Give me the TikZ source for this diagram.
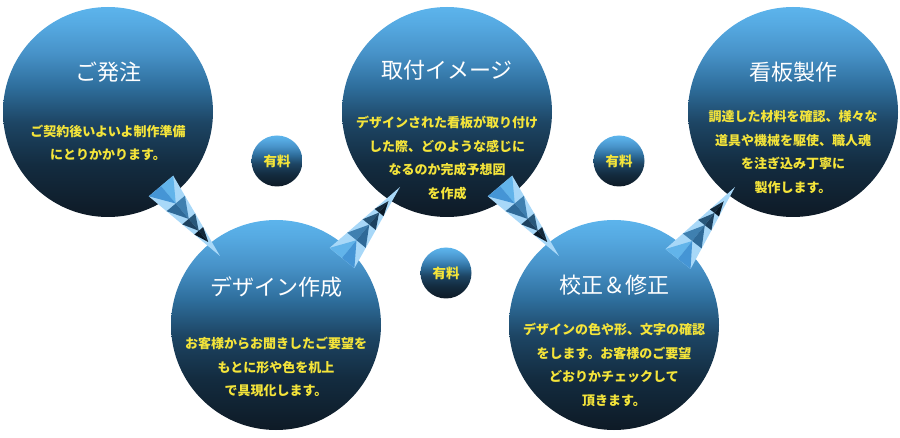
\documentclass[tikz,border=0pt]{standalone}
\usepackage{fontspec}
\newfontfamily\jpfont{Noto Sans CJK JP}
\usetikzlibrary{calc,positioning}

\definecolor{ballA}{HTML}{0E1A26}
\definecolor{ballB}{HTML}{132C40}
\definecolor{ballC}{HTML}{1D4564}
\definecolor{ballD}{HTML}{2E6E9C}
\definecolor{ballE}{HTML}{4792C8}
\definecolor{ballF}{HTML}{56AAE2}
\definecolor{ballG}{HTML}{5CB4EC}
\definecolor{noteyellow}{HTML}{F4E43A}
\definecolor{spikelight}{HTML}{A8D8F8}
\definecolor{pyrAl}{HTML}{62B4EA}
\definecolor{pyrAd}{HTML}{4595D5}
\definecolor{pyrBl}{HTML}{3F80B0}
\definecolor{pyrBd}{HTML}{2F6A98}
\definecolor{pyrCl}{HTML}{28577A}
\definecolor{pyrCd}{HTML}{1D4260}
\definecolor{pyrDl}{HTML}{13293B}
\definecolor{pyrDd}{HTML}{0A1A28}

\pgfdeclareverticalshading{ballshade}{100bp}{color(0bp)=(ballA); color(25bp)=(ballA);
  color(37.5bp)=(ballB); color(47.5bp)=(ballC); color(56bp)=(ballD);
  color(64bp)=(ballE); color(71bp)=(ballF); color(75bp)=(ballG); color(100bp)=(ballG)}

% spike from base centre #1 to tip #2
\newcommand{\spike}[2]{%
  \coordinate (sL) at ($(#1)!16pt!90:(#2)$);
  \coordinate (sR) at ($(#1)!16pt!-90:(#2)$);
  \fill[spikelight] (sL) -- (#2) -- (sR) -- cycle;
  \foreach \ta/\tb/\cl/\cd in {0/0.25/pyrAl/pyrAd,0.25/0.47/pyrBl/pyrBd,0.47/0.64/pyrCl/pyrCd,0.64/0.8/pyrDl/pyrDd}{
    \fill[\cl] ($(sL)!\ta!(#2)$) -- ($(#1)!\ta!(#2)$) -- ($(#1)!\tb!(#2)$) -- cycle;
    \fill[\cd] ($(sR)!\ta!(#2)$) -- ($(#1)!\ta!(#2)$) -- ($(#1)!\tb!(#2)$) -- cycle;
  }%
}

\begin{document}
\begin{tikzpicture}[x=1pt,y=-1pt,
  ball/.style={circle,inner sep=0pt,minimum size=210pt,shading=ballshade},
  fee/.style={circle,inner sep=0pt,minimum size=51pt,shading=ballshade,
    text=noteyellow,font=\jpfont\bfseries\fontsize{13.5}{15}\selectfont},
  headline/.style={text=white,font=\jpfont\fontsize{22}{26}\selectfont},
  note/.style={text=noteyellow,align=center,font=\jpfont\bfseries\fontsize{13}{23.5}\selectfont}]
        \useasboundingbox (0,0) rectangle (900,438);
        % draw big circles
        \node[ball] (order) at (108,112) {};
        \node[ball] (design) at (276,325) {};
        \node[ball] (mockup) at (447,112) {};
        \node[ball] (proof) at (614,325) {};
        \node[ball] (making) at (793,112) {};
        % draw small circles
        \node[fee] (fee1) at (277,161) {有料};
        \node[fee] (fee2) at (446,273) {有料};
        \node[fee] (fee3) at (619,161) {有料};
        % draw titles
        \node[headline] (ordert) at ($(order)+(0,-40)$) {ご発注};
        \node[headline] (designt) at ($(design)+(0,-38)$) {デザイン作成};
        \node[headline] (mockupt) at ($(mockup)+(0,-42)$) {取付イメージ};
        \node[headline] (prooft) at ($(proof)+(0,-40)$) {校正＆修正};
        \node[headline] (makingt) at ($(making)+(0,-40)$) {看板製作};
        % draw texts
        \node[note] (orderd) at ($(order)+(0,31)$) {ご契約後いよいよ制作準備\\にとりかかります。};
        \node[note] (designd) at ($(design)+(0,42)$) {お客様からお聞きしたご要望を\\もとに形や色を机上\\で具現化します。};
        \node[note] (mockupd) at ($(mockup)+(0,46)$) {デザインされた看板が取り付け\\した際、どのような感じに\\なるのか完成予想図\\を作成};
        \node[note] (proofd) at ($(proof)+(0,40)$) {デザインの色や形、文字の確認\\をします。お客様のご要望\\どおりかチェックして\\頂きます。};
        \node[note] (makingd) at ($(making)+(0,40)$) {調達した材料を確認、様々な\\道具や機械を駆使、職人魂\\を注ぎ込み丁寧に\\製作します。};
        % draw spikes
        \coordinate (s1) at ($(order)+(53,74)$);
        \coordinate (t1) at ($(design)+(-56,-69)$);
        \coordinate (s2) at ($(design)+(66,-67)$);
        \coordinate (t2) at ($(mockup)+(-47,75)$);
        \coordinate (s3) at ($(mockup)+(53,74)$);
        \coordinate (t3) at ($(proof)+(-55,-69)$);
        \coordinate (s4) at ($(proof)+(64,-66)$);
        \coordinate (t4) at ($(making)+(-58,75)$);
        \spike{s1}{t1}
        \spike{s2}{t2}
        \spike{s3}{t3}
        \spike{s4}{t4}
\end{tikzpicture}
\end{document}
